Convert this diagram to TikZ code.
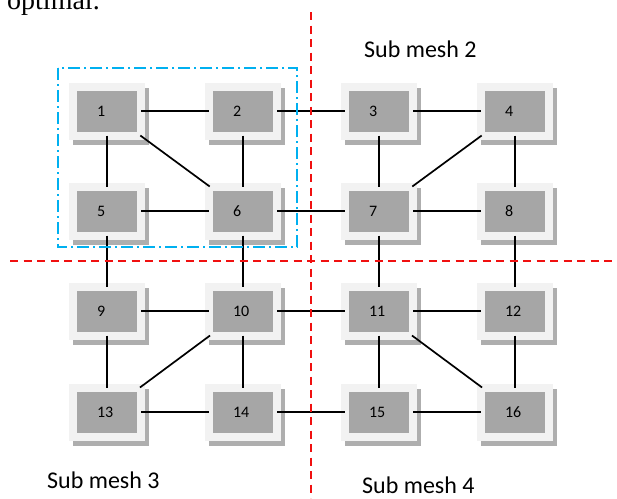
\documentclass[tikz,border=0pt]{standalone}
\usepackage{fontspec}
\setmainfont{Carlito}
\newfontfamily\seriffont{Liberation Serif}
\definecolor{frame}{HTML}{F2F2F2}
\definecolor{inner}{HTML}{A6A6A6}
\definecolor{shade}{HTML}{AEAEAE}
\definecolor{redline}{HTML}{F01010}
\definecolor{blueline}{HTML}{00B0F0}
\begin{document}
\begin{tikzpicture}[x=1pt,y=-1pt,
  box/.style={preaction={draw=shade,fill=shade,line width=8pt,
      transform canvas={shift={(3.5pt,-5pt)}}},
    fill=inner, draw=frame, line width=8pt,
    minimum width=68pt, minimum height=49pt, outer sep=0pt, inner sep=0pt,
    text width=20pt, align=left, font=\fontsize{16}{16}\selectfont},
  link/.style={line width=1.7pt, black},
  part/.style={redline, line width=2pt, dash pattern=on 8pt off 5.5pt},
  big/.style={anchor=base west, inner sep=0pt, text depth=0pt, font=\fontsize{24}{24}\selectfont}]
\clip (0,0) rectangle (617,498);
\fill[white] (0,0) rectangle (617,498);

\node[anchor=base west, inner sep=0pt, font=\seriffont\fontsize{28}{28}\selectfont] (opt) at (7,9) {optimal.};

\node[box] (n1)  at (107,111) {1};
\node[box] (n2)  at (243,111) {2};
\node[box] (n3)  at (379,111) {3};
\node[box] (n4)  at (515,111) {4};
\node[box] (n5)  at (107,211) {5};
\node[box] (n6)  at (243,211) {6};
\node[box] (n7)  at (379,211) {7};
\node[box] (n8)  at (515,211) {8};
\node[box] (n9)  at (107,311) {9};
\node[box] (n10) at (243,311) {10};
\node[box] (n11) at (379,311) {11};
\node[box] (n12) at (515,311) {12};
\node[box] (n13) at (107,412) {13};
\node[box] (n14) at (243,412) {14};
\node[box] (n15) at (379,412) {15};
\node[box] (n16) at (515,412) {16};

\foreach \a/\b in {n1/n2,n2/n3,n3/n4,n1/n5,n1/n6,n2/n6,n3/n7,n4/n7,n4/n8,
  n5/n6,n6/n7,n7/n8,n5/n9,n6/n10,n7/n11,n8/n12,n9/n10,n10/n11,n11/n12,
  n9/n13,n10/n13,n10/n14,n11/n15,n11/n16,n12/n16,n13/n14,n14/n15,n15/n16}
  \draw[link] (\a) -- (\b);

\draw[blueline, line width=1.5pt, dash pattern=on 12pt off 4pt on 2pt off 4pt]
  (58,68) rectangle (297,247);

\coordinate (vt) at (311,12);
\coordinate (vb) at (311,498);
\coordinate (hl) at (10,261);
\coordinate (hr) at (617,261);
\draw[part] (vt) -- (vb);
\draw[part] (hl) -- (hr);

\node[big] (sm2) at (364,57) {Sub mesh 2};
\node[big] (sm3) at (47,488) {Sub mesh 3};
\node[big] (sm4) at (362,493) {Sub mesh 4};
\end{tikzpicture}
\end{document}
